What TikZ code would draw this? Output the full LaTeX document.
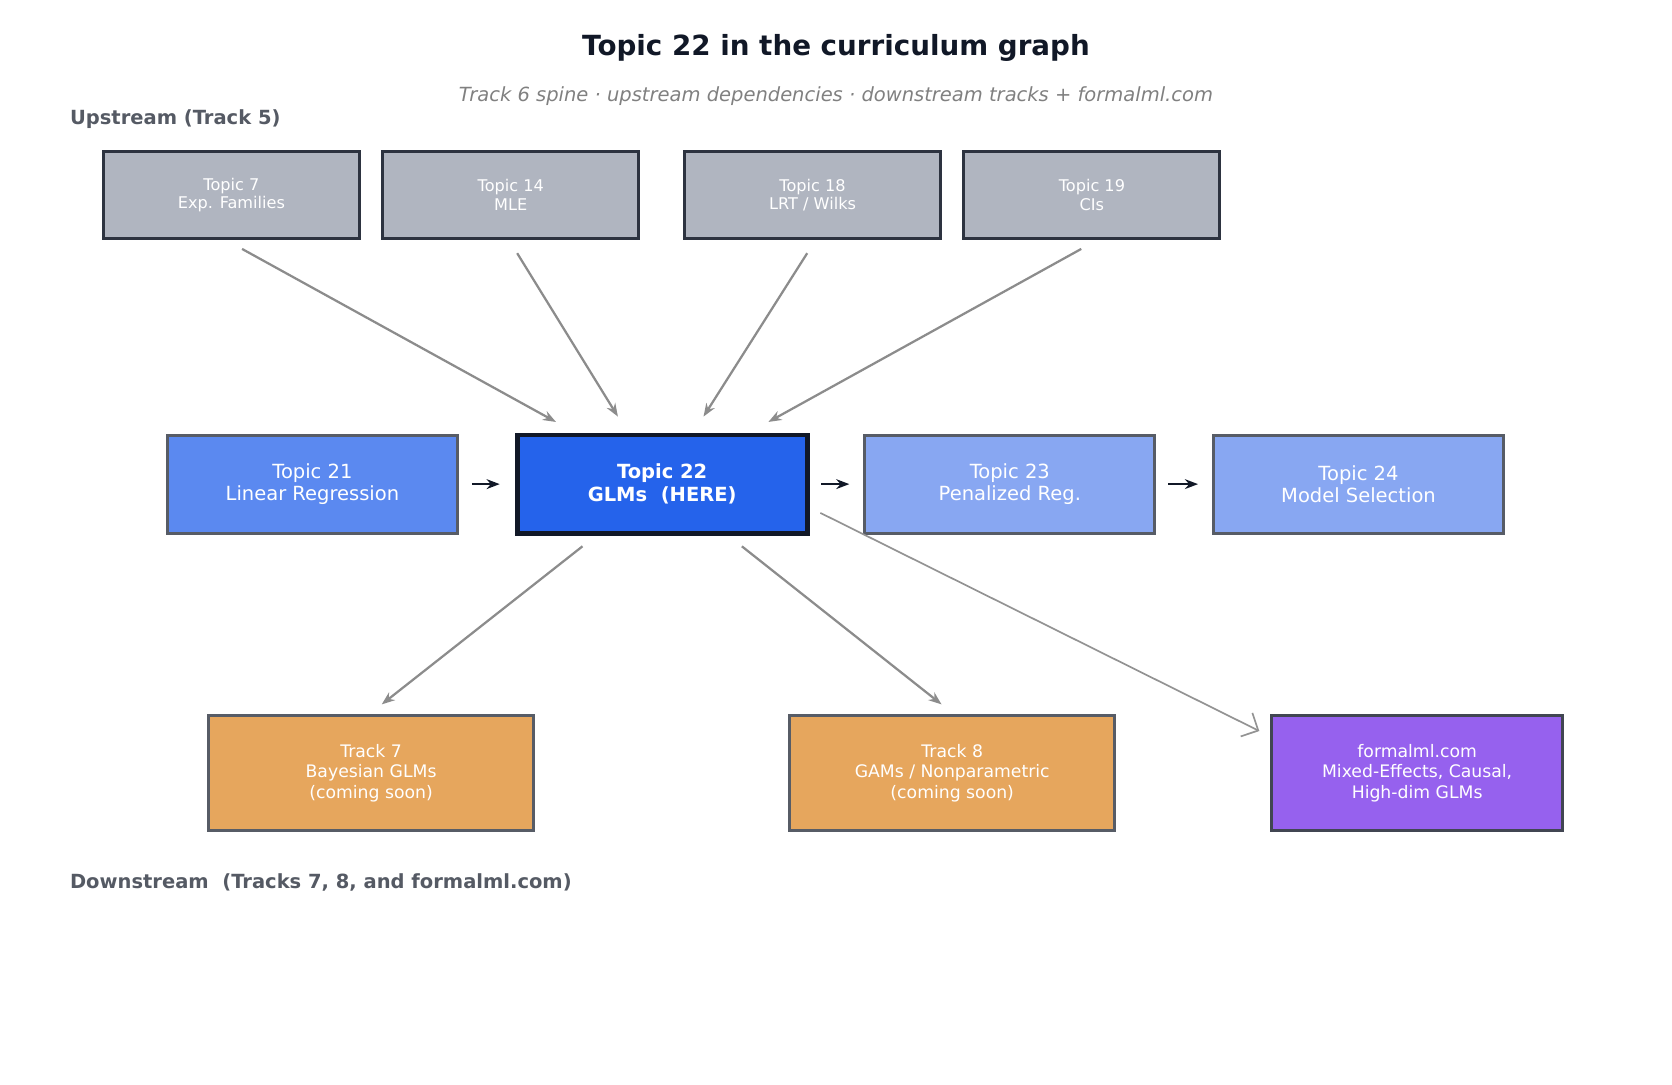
\documentclass[tikz,border=0pt]{standalone}
\usepackage{fontspec}
\setmainfont{DejaVu Sans}
\usetikzlibrary{arrows.meta, positioning, calc}

\definecolor{upfill}{HTML}{B0B5C0}
\definecolor{updraw}{HTML}{2D3340}
\definecolor{heredraw}{HTML}{111827}
\definecolor{spinefill}{HTML}{5B89F0}
\definecolor{herefill}{HTML}{2563EB}
\definecolor{nextfill}{HTML}{88A7F2}
\definecolor{trackfill}{HTML}{E6A65D}
\definecolor{webfill}{HTML}{9661EE}
\definecolor{labelgray}{HTML}{555A64}

\begin{document}
\begin{tikzpicture}[
        x=0.01cm, y=-0.01cm,
        upbox/.style={draw=updraw, fill=upfill, thick, minimum width=2.4cm, minimum height=0.82cm,
            align=center, text=white, font=\fontsize{4.3}{5}\selectfont},
        spine/.style={draw=updraw!80, fill=#1, thick, minimum width=2.72cm, minimum height=0.92cm,
            align=center, text=white, font=\fontsize{5.2}{6}\selectfont},
        downbox/.style={draw=updraw!80, fill=#1, thick, minimum width=3.05cm, minimum height=1.08cm,
            align=center, text=white, font=\fontsize{4.6}{5.4}\selectfont},
        feed/.style={draw=gray!90, line width=0.6pt, -{Stealth[length=3.5pt]}},
        chain/.style={draw=heredraw, line width=0.7pt, -{Stealth[length=3.5pt]}},
        every node/.style={inner sep=0pt}
    ]
    \useasboundingbox (0,0) rectangle (1568,1017);

    % Title
    \node[font=\bfseries\fontsize{7.4}{9}\selectfont, text=heredraw] (title) at (784,45) {Topic 22 in the curriculum graph};
    \node[font=\itshape\fontsize{5.2}{6}\selectfont, text=gray] (sub) at (784,90) {Track 6 spine · upstream dependencies · downstream tracks + formalml.com};
    \node[anchor=west, font=\bfseries\fontsize{5.2}{6}\selectfont, text=labelgray] (uplbl) at (65,112) {Upstream (Track 5)};
    \node[anchor=west, font=\bfseries\fontsize{5.2}{6}\selectfont, text=labelgray] (downlbl) at (65,828) {Downstream\ \ (Tracks 7, 8, and formalml.com)};

    % Upstream
    \node[upbox] (t7) at (217,183) {Topic 7\\Exp. Families};
    \node[upbox] (t14) at (479,183) {Topic 14\\MLE};
    \node[upbox] (t18) at (762,183) {Topic 18\\LRT / Wilks};
    \node[upbox] (t19) at (1024,183) {Topic 19\\CIs};

    % Spine
    \node[spine=spinefill] (t21) at (293,454) {Topic 21\\Linear Regression};
    \node[spine=herefill, draw=heredraw, line width=1.3pt, font=\bfseries\fontsize{5.2}{6}\selectfont] (t22) at (621,454) {Topic 22\\GLMs\ \ (HERE)};
    \node[spine=nextfill] (t23) at (947,454) {Topic 23\\Penalized Reg.};
    \node[spine=nextfill] (t24) at (1274,454) {Topic 24\\Model Selection};

    % Downstream
    \node[downbox=trackfill] (tr7) at (348,725) {Track 7\\Bayesian GLMs\\(coming soon)};
    \node[downbox=trackfill] (tr8) at (893,725) {Track 8\\GAMs / Nonparametric\\(coming soon)};
    \node[downbox=webfill, minimum width=2.73cm, draw=heredraw!80] (web) at (1329,725) {formalml.com\\Mixed-Effects, Causal,\\High-dim GLMs};

    % Upstream arrows
    \draw[feed] ($(t7.south)+(10,8)$) -- ($(t22.north west)!0.14!(t22.north east)+(0,-10)$);
    \draw[feed] ($(t14.south)+(6,12)$) -- ($(t22.north west)!0.35!(t22.north east)+(0,-15)$);
    \draw[feed] ($(t18.south)+(-5,12)$) -- ($(t22.north west)!0.64!(t22.north east)+(0,-15)$);
    \draw[feed] ($(t19.south)+(-10,8)$) -- ($(t22.north west)!0.86!(t22.north east)+(0,-10)$);

    % Spine arrows
    \draw[chain] ($(t21.east)+(12,0)$) -- ($(t22.west)+(-14,0)$);
    \draw[chain] ($(t22.east)+(11,0)$) -- ($(t23.west)+(-13,0)$);
    \draw[chain] ($(t23.east)+(11,0)$) -- ($(t24.west)+(-13,0)$);

    % Downstream arrows
    \draw[feed] ($(t22.south west)!0.23!(t22.south east)+(0,10)$) -- ($(tr7.north)+(10,-9)$);
    \draw[feed] ($(t22.south west)!0.77!(t22.south east)+(0,10)$) -- ($(tr8.north)+(-10,-9)$);
    \draw[draw=gray!85, line width=0.45pt, -{Straight Barb[length=3.5pt]}] ($(t22.east)+(10,27)$) -- ($(web.north west)+(-10,16)$);
\end{tikzpicture}
\end{document}
